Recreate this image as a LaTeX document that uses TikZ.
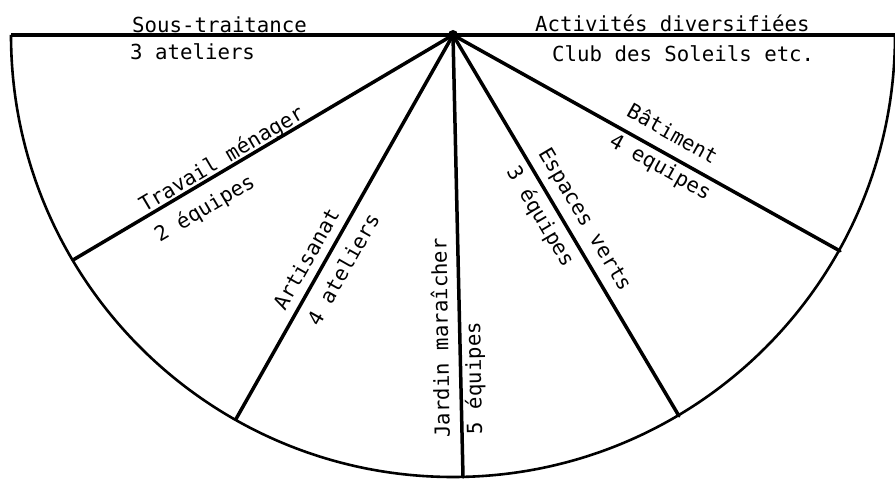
\documentclass[tikz,border=0pt]{standalone}
\usepackage{fontspec}
\setmonofont{DejaVu Sans Mono}
\tikzset{
  spoke/.style={line width=3.5bp, line cap=round},
  rim/.style={line width=2.6bp},
  lbl/.style={inner sep=0pt}
}
\begin{document}
\begin{tikzpicture}[x=1bp, y=1bp, font=\ttfamily\fontsize{20.8}{24}\selectfont]
        \useasboundingbox (0, 0) rectangle (895, 482);
        % Centre and spoke ends on the rim
        \coordinate (c) at (453, 447);
        \coordinate (left) at (11, 447);
        \coordinate (right) at (895, 447);
        \coordinate (menage) at (73, 222);
        \coordinate (artis) at (236, 63);
        \coordinate (jardin) at (463, 5);
        \coordinate (espaces) at (679, 66);
        \coordinate (batim) at (840, 231);

        \draw[rim] (left) arc[start angle=180, end angle=360, radius=442bp];
        \draw[line width=3.2bp] (left) -- (right);
        \draw[spoke] (c) -- (menage);
        \draw[spoke] (c) -- (artis);
        \draw[spoke] (c) -- (jardin);
        \draw[spoke] (c) -- (espaces);
        \draw[spoke] (c) -- (batim);
        \fill (c) circle[radius=5];

        % Top labels
        \node[lbl, anchor=base west] (sous) at (132, 449) {Sous-traitance};
        \node[lbl, anchor=base west] (sousn) at (130, 422) {3 ateliers};
        \node[lbl, anchor=base west] (activ) at (535, 450) {Activités diversifiées};
        \node[lbl, anchor=base west] (club) at (552, 420) {Club des Soleils etc.};

        % Labels along the spokes
        \node[lbl, rotate=30.6] (menaget) at (222, 322) {Travail ménager};
        \node[lbl, rotate=30.6] (menagen) at (205, 273) {2 équipes};
        \node[lbl, rotate=60.5] (artist) at (306, 223) {Artisanat};
        \node[lbl, rotate=60.5] (artisn) at (343, 213) {4 ateliers};
        \node[lbl, rotate=91] (jardint) at (440, 144) {Jardin maraîcher};
        \node[lbl, rotate=91] (jardinn) at (475, 104) {5 équipes};
        \node[lbl, rotate=-59.3] (espacest) at (584, 262) {Espaces verts};
        \node[lbl, rotate=-59.3] (espacesn) at (540, 265) {3 équipes};
        \node[lbl, rotate=-29.1] (batimt) at (673, 349) {Bâtiment};
        \node[lbl, rotate=-29.1] (batimn) at (660, 314) {4 equipes};
    \end{tikzpicture}
\end{document}
